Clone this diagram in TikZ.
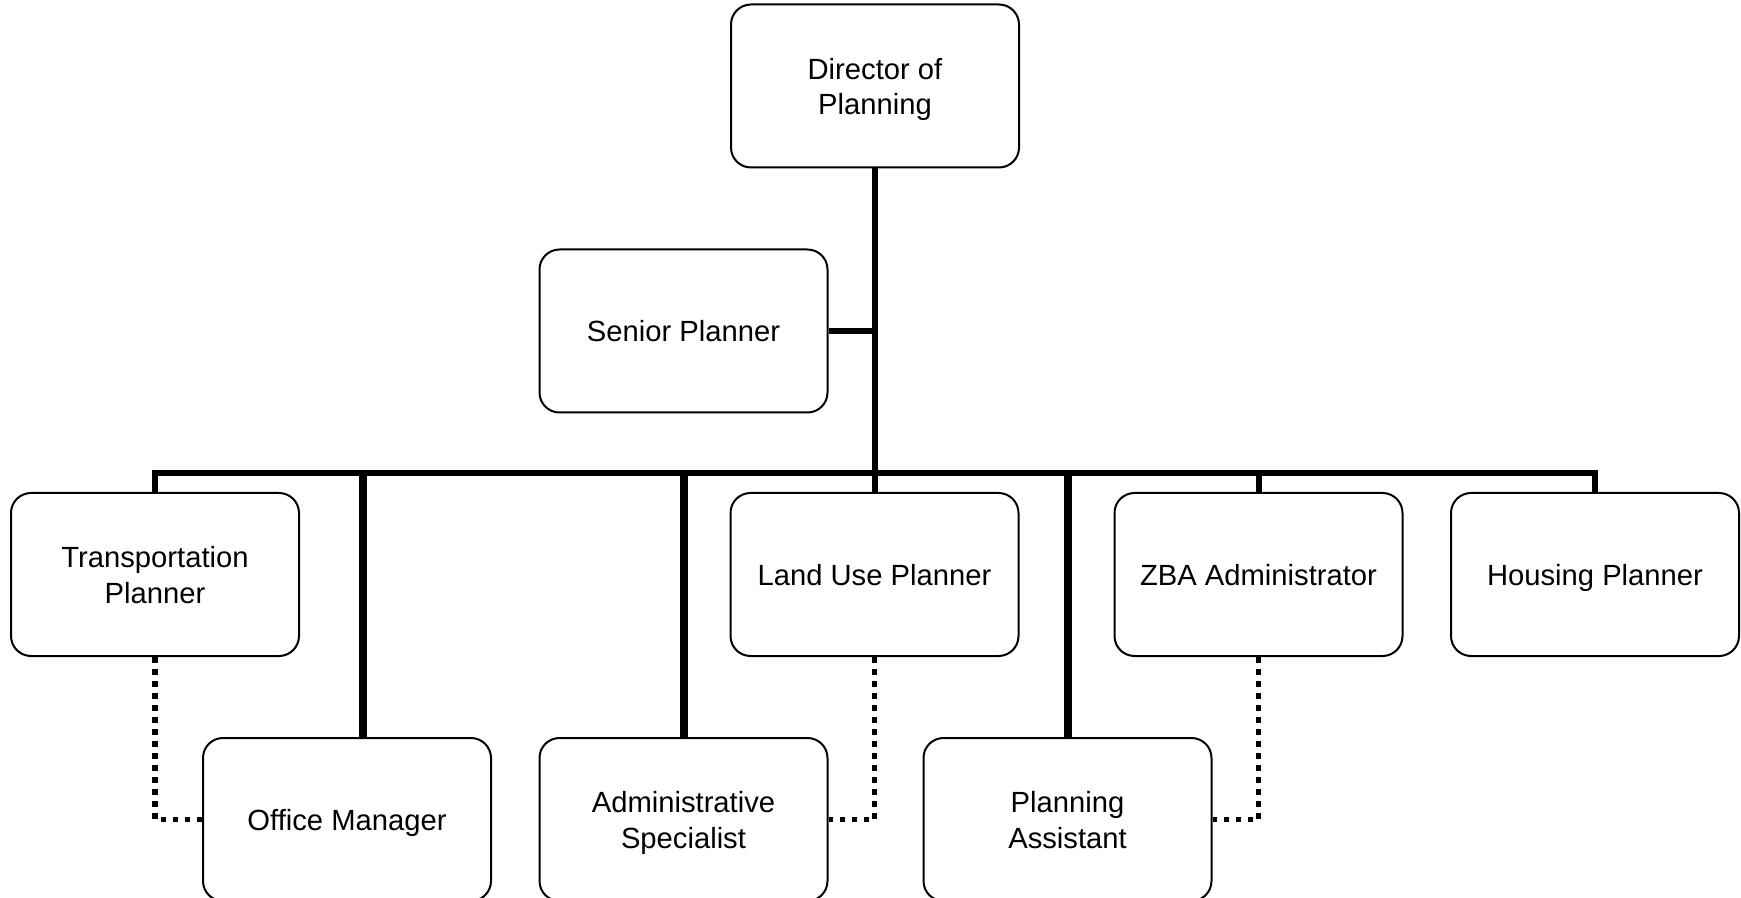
\documentclass[tikz,border=0pt]{standalone}
\usepackage{fontspec}
\setmainfont{Liberation Sans}
\usepackage{tikz}
\usetikzlibrary{positioning}
\newcommand{\StuetzeOben}{\rule{0pt}{14.5pt}}% Hoehe erste Zeile
\newcommand{\StuetzeUnten}{\rule[-3.5pt]{0pt}{3.5pt}}% Tiefe letzte Zeile
\tikzset{
  Stelle/.style={draw, line width=1pt, fill=white, rounded corners=10pt,
    minimum width=144pt, minimum height=81.5pt, inner sep=0pt,
    text width=140pt, align=flush center,
    execute at begin node=\StuetzeOben, execute at end node=\StuetzeUnten}, % Kaesten
  Linie/.style={line width=#1, line join=miter}, % Leitungen
  Punktlinie/.style={line width=2.75pt, dash pattern=on 2.75pt off 3.25pt} % gepunktet
}

\begin{document}
\begin{tikzpicture}[
x=0.5pt, y=-0.5pt,
font=\fontsize{14.6}{17.75}\selectfont
]
\useasboundingbox (0,0) rectangle (1741,898);

%Stellen
\node[Stelle] (Dir) at (875,86) {Director of\\Planning};
\node[Stelle] (Senior) at (683.5,331) {Senior Planner};

\node[Stelle] (Verkehr) at (155,574.5) {Transportation\\Planner};
\node[Stelle] (Land) at (874.5,574.5) {Land Use Planner};
\node[Stelle] (ZBA) at (1258.5,574.5) {ZBA Administrator};
\node[Stelle] (Wohnen) at (1595,574.5) {Housing Planner};

\node[Stelle] (Buero) at (347,819.5) {Office Manager};
\node[Stelle] (Verwaltung) at (683.5,819.5) {Administrative\\Specialist};
\node[Stelle] (Assistenz) at (1067.5,819.5) {Planning\\Assistant};

\coordinate (Bus) at (875,473.5);

%Leitungen
\draw[Linie=3.25pt] (Dir.south) -- (Bus);
\draw[Linie=3pt] (Senior.east) -- (Senior.east -| Dir.south);

\draw[Linie=3pt] (Verkehr.north) |- (Bus) -| (Wohnen.north);
\draw[Linie=3pt] (Land.north) -- (Land.north |- Bus);
\draw[Linie=3pt] (ZBA.north) -- (ZBA.north |- Bus);

\draw[Linie=4pt] ([xshift=8pt]Buero.north) -- ([xshift=8pt]Buero.north |- Bus);
\draw[Linie=4pt] (Verwaltung.north) -- (Verwaltung.north |- Bus);
\draw[Linie=4pt] (Assistenz.north) -- (Assistenz.north |- Bus);

%gepunktete Leitungen
\draw[Punktlinie] (Verkehr.south) |- (Buero.west);
\draw[Punktlinie] (Land.south) |- (Verwaltung.east);
\draw[Punktlinie] (ZBA.south) |- (Assistenz.east);

\end{tikzpicture}
\end{document}
